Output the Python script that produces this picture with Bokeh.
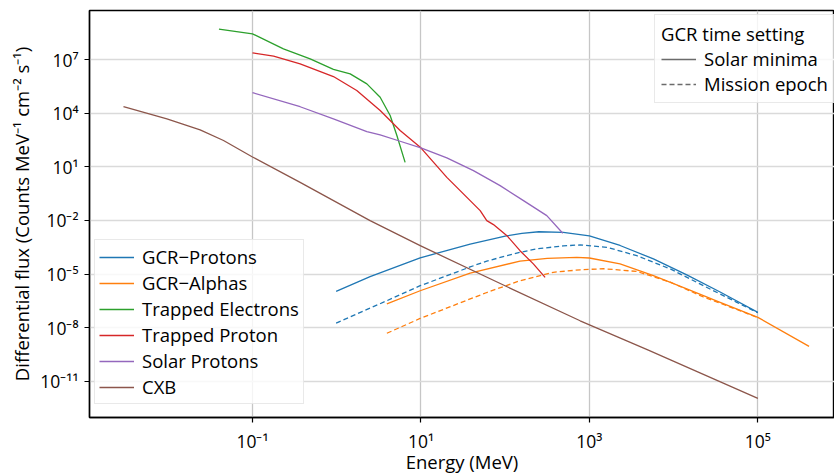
from bokeh.plotting import figure
from bokeh.models import Range1d, FixedTicker, Legend, LegendItem
from bokeh.embed import file_html
from bokeh.resources import INLINE

# ---------------- data (Energy in MeV, flux in counts MeV^-1 cm^-2 s^-1) ----------------
gcr_p_min_E = [0.984, 2.49, 9.79, 38.4, 100, 158, 251, 490, 1000, 2312, 5754, 14322, 35645, 1e5]
gcr_p_min_F = [1.07e-6, 7.24e-6, 8.13e-5, 4.68e-4, 1.32e-3, 1.91e-3, 2.34e-3, 2.14e-3, 1.38e-3,
               3.98e-4, 7.08e-5, 9.12e-6, 1.0e-6, 7.24e-8]

gcr_p_ep_E = [0.984, 3.94, 9.79, 38.4, 60.5, 150, 238, 490, 776, 1611, 3656, 9120, 22594, 56234, 1e5]
gcr_p_ep_F = [1.82e-8, 3.24e-7, 2.24e-6, 2.51e-5, 5.37e-5, 1.66e-4, 2.57e-4, 3.80e-4, 4.27e-4,
              3.16e-4, 1.07e-4, 1.95e-5, 2.24e-6, 2.63e-7, 6.92e-8]

gcr_a_min_E = [3.94, 9.79, 38.4, 150, 316, 708, 1000, 2312, 5754, 14322, 35645, 1e5, 4.055e5]
gcr_a_min_F = [2.14e-7, 1.17e-6, 1.12e-5, 5.37e-5, 7.59e-5, 8.71e-5, 7.94e-5, 3.72e-5, 8.13e-6,
               1.48e-6, 2.63e-7, 3.80e-8, 9.12e-10]

gcr_a_ep_E = [3.94, 9.79, 38.4, 60.5, 150, 372, 776, 1472, 3656, 9120, 22594, 56234, 1e5]
gcr_a_ep_F = [4.90e-9, 3.31e-8, 4.07e-7, 9.33e-7, 4.27e-6, 1.26e-5, 1.74e-5, 2.0e-5, 1.41e-5,
              3.55e-6, 5.25e-7, 1.05e-7, 3.63e-8]

trap_e_E = [0.040, 0.10, 0.233, 0.484, 0.914, 1.445, 2.28, 3.28, 4.31, 5.18, 6.49]
trap_e_F = [5.01e8, 2.75e8, 3.98e7, 1.10e7, 2.82e6, 1.58e6, 4.37e5, 7.76e4, 7.41e3, 5.62e2, 17.8]

trap_p_E = [0.1, 0.178, 0.368, 0.914, 1.73, 3.28, 5.66, 9.98, 20.3, 29.2, 38.4, 50.5, 60.5, 72.6,
            105, 150, 216, 298]
trap_p_F = [2.34e7, 1.55e7, 5.75e6, 1.12e6, 1.86e5, 1.41e4, 1.07e3, 115, 2.57, 0.468, 0.129,
            0.0355, 9.77e-3, 5.89e-3, 1.41e-3, 2.04e-4, 3.72e-5, 6.61e-6]

solar_p_E = [0.1, 0.368, 0.914, 2.28, 3.28, 5.66, 9.98, 20.3, 42.0, 87.1, 165, 312, 483]
solar_p_F = [1.41e5, 2.29e4, 4.79e3, 933, 617, 269, 115, 31.6, 6.17, 0.891, 0.129, 0.0186, 1.91e-3]

cxb_E = [2.94e-3, 9.64e-3, 0.0239, 0.0453, 0.1, 0.368, 2.49, 9.80, 95.3, 776, 5010, 1e5]
cxb_F = [2.34e4, 4.79e3, 1.17e3, 295, 35.5, 1.35, 9.77e-3, 3.89e-4, 2.45e-6, 2.45e-8, 5.62e-10, 1.12e-12]

x_ticks = [1e-1, 1e1, 1e3, 1e5]
x_tick_labels = ["10\u207b\u00b9", "10\u00b9", "10\u00b3", "10\u2075"]
y_ticks = [1e-11, 1e-8, 1e-5, 1e-2, 1e1, 1e4, 1e7]
y_tick_labels = ["10\u207b\u00b9\u00b9", "10\u207b\u2078", "10\u207b\u2075", "10\u207b\u00b2",
                 "10\u00b9", "10\u2074", "10\u2077"]

x_title = "Energy (MeV)"
y_title = "Differential flux (Counts MeV\u207b\u00b9 cm\u207b\u00b2 s\u207b\u00b9)"
series_names = ["GCR\u2212Protons", "GCR\u2212Alphas", "Trapped Electrons", "Trapped Proton",
                "Solar Protons", "CXB"]
setting_title = "GCR time setting"
setting_names = ["Solar minima", "Mission epoch"]

# ---------------- styles ----------------
FONT = "Open Sans"
C_BLUE, C_ORANGE, C_GREEN, C_RED, C_PURPLE, C_BROWN = (
    "#1f77b4", "#ff7f0e", "#2ca02c", "#d62728", "#9467bd", "#8c564b")
C_GREY = "#6b6b6b"
LW = 1.3
DASH = "5 3"
NAN = float("nan")

p = figure(width=834, height=476, x_axis_type="log", y_axis_type="log",
           x_range=Range1d(10 ** -2.935, 10 ** 5.91),
           y_range=Range1d(10 ** -13.02, 10 ** 9.742),
           output_backend="svg", toolbar_location=None,
           min_border_left=89, min_border_right=0, min_border_top=10, min_border_bottom=59)

p.background_fill_color = "white"
p.border_fill_color = "white"
p.outline_line_color = "black"
p.outline_line_width = 1.4

r_gp = p.line(gcr_p_min_E, gcr_p_min_F, color=C_BLUE, line_width=LW, line_join="round")
p.line(gcr_p_ep_E, gcr_p_ep_F, color=C_BLUE, line_width=LW, line_dash=DASH)
r_ga = p.line(gcr_a_min_E, gcr_a_min_F, color=C_ORANGE, line_width=LW, line_join="round")
p.line(gcr_a_ep_E, gcr_a_ep_F, color=C_ORANGE, line_width=LW, line_dash=DASH)
r_te = p.line(trap_e_E, trap_e_F, color=C_GREEN, line_width=LW, line_join="round")
r_tp = p.line(trap_p_E, trap_p_F, color=C_RED, line_width=LW, line_join="round")
r_sp = p.line(solar_p_E, solar_p_F, color=C_PURPLE, line_width=LW, line_join="round")
r_cx = p.line(cxb_E, cxb_F, color=C_BROWN, line_width=LW, line_join="round")

# legend-only (style key) renderers, nothing drawn
r_min = p.line([NAN], [NAN], color=C_GREY, line_width=LW)
r_ep = p.line([NAN], [NAN], color=C_GREY, line_width=LW, line_dash=DASH)

# axes
p.xaxis.ticker = FixedTicker(ticks=x_ticks, minor_ticks=[])
p.yaxis.ticker = FixedTicker(ticks=y_ticks, minor_ticks=[])
p.xaxis.major_label_overrides = dict(zip(x_ticks, x_tick_labels))
p.yaxis.major_label_overrides = dict(zip(y_ticks, y_tick_labels))
p.xaxis.axis_label = x_title
p.yaxis.axis_label = y_title
for ax in (p.xaxis, p.yaxis):
    ax.axis_line_color = "black"
    ax.axis_line_width = 1.4
    ax.major_tick_line_color = "black"
    ax.major_tick_line_width = 1.2
    ax.major_tick_out = 5
    ax.major_tick_in = 0
    ax.minor_tick_line_color = None
    ax.major_label_text_font = FONT
    ax.major_label_text_font_size = "17.5px"
    ax.major_label_text_color = "black"
    ax.major_label_standoff = 6
    ax.axis_label_text_font = FONT
    ax.axis_label_text_font_size = "18.5px"
    ax.axis_label_text_font_style = "normal"
    ax.axis_label_text_color = "black"
p.yaxis.axis_label_standoff = 3
p.xaxis.axis_label_standoff = -7

p.xgrid.grid_line_color = "#c6c6c6"
p.ygrid.grid_line_color = "#dadada"
p.xgrid.grid_line_width = 1.3
p.ygrid.grid_line_width = 1.3

# legends
leg_style = dict(label_text_font=FONT, label_text_font_size="18.5px", label_text_color="black",
                 glyph_width=35, glyph_height=20, label_height=20, label_standoff=8,
                 margin=0, border_line_color="#d4d4d4", border_line_width=1,
                 background_fill_color="white", background_fill_alpha=0.8)

leg1 = Legend(items=[LegendItem(label=n, renderers=[r]) for n, r in
                     zip(series_names, [r_gp, r_ga, r_te, r_tp, r_sp, r_cx])],
              location=(5, 13), spacing=1, padding=4, **leg_style)
p.add_layout(leg1)

leg2 = Legend(items=[LegendItem(label=n, renderers=[r]) for n, r in
                     zip(setting_names, [r_min, r_ep])],
              location=(565, 314), spacing=0, padding=6, title=setting_title,
              title_text_font=FONT, title_text_font_size="18.5px", title_text_font_style="normal",
              title_text_color="black", title_standoff=0, **leg_style)
p.add_layout(leg2)

open("out.html", "w").write(file_html(p, INLINE))
